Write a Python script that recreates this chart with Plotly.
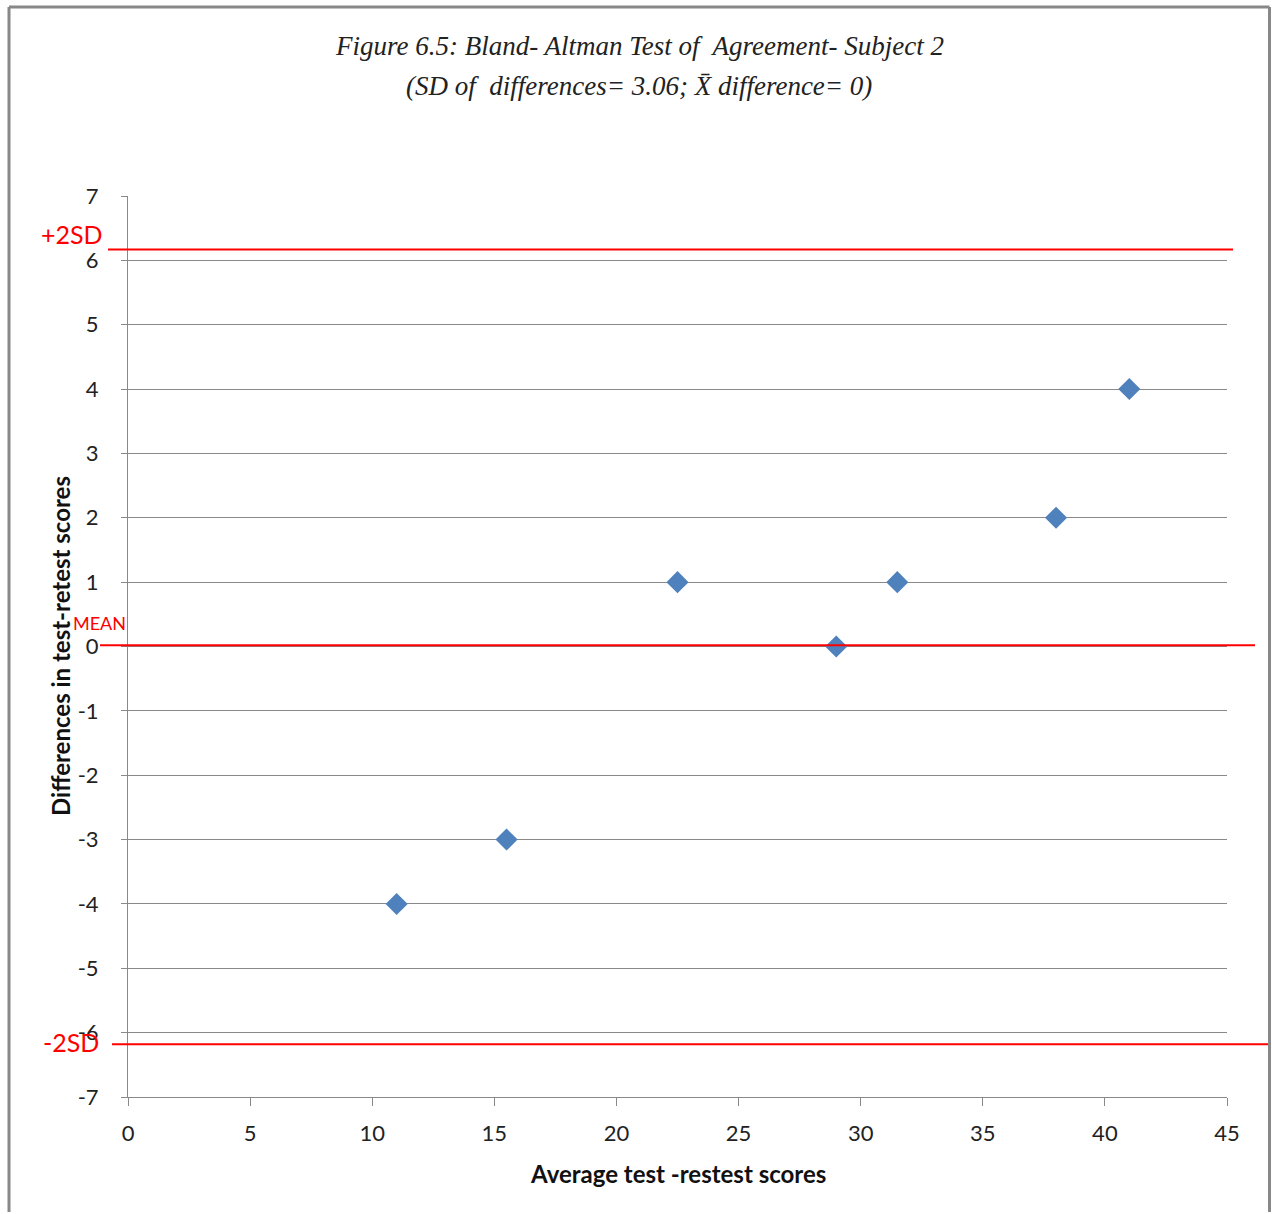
import plotly.graph_objects as go

# Data
avg_scores = [11, 15.5, 22.5, 29, 31.5, 38, 41]
differences = [-4, -3, 1, 0, 1, 2, 4]

upper_limit = 6.17
mean_line = 0.02
lower_limit = -6.18

x_ticks = [0, 5, 10, 15, 20, 25, 30, 35, 40, 45]
y_ticks = [7, 6, 5, 4, 3, 2, 1, 0, -1, -2, -3, -4, -5, -6, -7]
y_ticktext = [str(v) for v in y_ticks]

O = 0
W, H = 1272, 1212
# plot area in screen pixels: left 128, right 1227, top 196, bottom 1097
L = 128 - O
T = 196 - O
R = W - (1227 - O)
B = H - (1097 - O)
pw = W - L - R
ph = H - T - B

def px_x(p):
    return (p - O - L) / pw

def px_y(p):
    return (H - B - (p - O)) / ph

fig = go.Figure()
fig.add_trace(go.Scatter(
    x=avg_scores, y=differences, mode="markers",
    marker=dict(symbol="diamond", size=17, color="#4F81BD",
                line=dict(width=0)),
    showlegend=False, cliponaxis=False,
))

grey = "#898989"
sans = "Lato, Open Sans, sans-serif"
tickfont = dict(family=sans, size=22, color="#222222")

fig.update_layout(
    width=W, height=H,
    margin=dict(l=L, r=R, t=T, b=B, pad=0),
    paper_bgcolor="white", plot_bgcolor="white",
    xaxis=dict(range=[0, 45], tickvals=x_ticks, showgrid=False, zeroline=False,
               showline=True, linecolor=grey, linewidth=1,
               ticks="outside", ticklen=8, tickcolor=grey,
               tickfont=tickfont, ticklabelstandoff=9),
    yaxis=dict(range=[-7, 7], tickvals=y_ticks, ticktext=y_ticktext,
               showgrid=True, gridcolor=grey, gridwidth=1,
               zeroline=False, showline=True, linecolor=grey, linewidth=1,
               ticks="outside", ticklen=6, tickcolor=grey,
               tickfont=tickfont, ticklabelstandoff=18),
)

# Axis titles
fig.add_annotation(text="<b>Average test -restest scores</b>", xref="paper", yref="paper",
                   x=px_x(678), y=px_y(1173), xanchor="center", yanchor="middle",
                   showarrow=False, font=dict(family=sans, size=24, color="#111111"))
fig.add_annotation(text="<b>Differences in test-retest scores</b>", xref="paper", yref="paper",
                   x=px_x(60), y=px_y(646), xanchor="center", yanchor="middle", textangle=-90,
                   showarrow=False, font=dict(family=sans, size=24, color="#111111"))

# Reference lines (limits of agreement and mean)
red = "#FF0000"
for yv, x0px, x1px in [(upper_limit, 108, 1233), (mean_line, 100, 1255), (lower_limit, 112, 1268)]:
    fig.add_shape(type="line", xref="paper", yref="y",
                  x0=px_x(x0px), x1=px_x(x1px), y0=yv, y1=yv,
                  line=dict(color=red, width=2))

# Labels for reference lines
fig.add_annotation(text="+2SD", xref="paper", yref="paper", x=px_x(105), y=px_y(234),
                   xanchor="right", yanchor="middle", showarrow=False,
                   font=dict(family=sans, size=25, color=red))
fig.add_annotation(text="MEAN", xref="paper", yref="paper", x=px_x(128), y=px_y(623),
                   xanchor="right", yanchor="middle", showarrow=False,
                   font=dict(family=sans, size=18, color=red))
fig.add_annotation(text="-2SD", xref="paper", yref="paper", x=px_x(101), y=px_y(1042),
                   xanchor="right", yanchor="middle", showarrow=False,
                   font=dict(family=sans, size=25, color=red))

# Title
title_font = dict(family="Liberation Serif, DejaVu Serif, serif", size=27, color="#222222")
fig.add_annotation(text="<i>Figure 6.5: Bland- Altman Test of  Agreement- Subject 2</i>",
                   xref="paper", yref="paper", x=px_x(639), y=px_y(46),
                   xanchor="center", yanchor="middle", showarrow=False, font=title_font)
fig.add_annotation(text="<i>(SD of  differences= 3.06; X\u0304 difference= 0)</i>",
                   xref="paper", yref="paper", x=px_x(639), y=px_y(86),
                   xanchor="center", yanchor="middle", showarrow=False, font=title_font)

# Outer chart border (left, top, right)
border = dict(color="#888888", width=3)
fig.add_shape(type="line", xref="paper", yref="paper", x0=px_x(9), x1=px_x(9),
              y0=px_y(7), y1=px_y(1230), line=border)
fig.add_shape(type="line", xref="paper", yref="paper", x0=px_x(9), x1=px_x(1269.5),
              y0=px_y(7), y1=px_y(7), line=border)
fig.add_shape(type="line", xref="paper", yref="paper", x0=px_x(1269.5), x1=px_x(1269.5),
              y0=px_y(7), y1=px_y(1230), line=border)

fig.write_html("out.html", config={"displayModeBar": False},
               post_script="document.body.style.margin='0';document.body.style.overflow='hidden';")
